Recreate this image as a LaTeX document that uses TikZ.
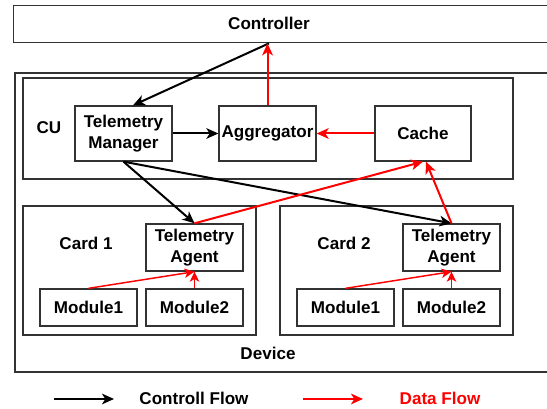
\documentclass[tikz,border=0pt]{standalone}
\usepackage{fontspec}
\setmainfont{Liberation Sans}
\usetikzlibrary{arrows.meta,calc}
\definecolor{boxline}{RGB}{51,51,51}
\definecolor{dred}{RGB}{255,0,0}
\begin{document}
\begin{tikzpicture}[x=0.75pt,y=-0.75pt,
  every node/.style={font=\fontsize{12.8}{15.5}\selectfont\bfseries},
  box/.style={draw=boxline,line width=1pt,inner sep=0pt,align=center},
  sz/.style 2 args={minimum width=#1*0.75pt,minimum height=#2*0.75pt},
  ctrl/.style={draw=black,line width=1.5pt,-{Stealth[length=9pt,width=8pt,inset=2.5pt]}},
  data/.style={draw=dred,line width=1.5pt,-{Stealth[length=9pt,width=8pt,inset=2.5pt]}},
  datathin/.style={draw=dred,line width=1.1pt,-{Stealth[length=7.5pt,width=7pt,inset=2pt]}},
  lbl/.style={inner sep=0pt}
]
\useasboundingbox (0,0) rectangle (547,409);

% Controller
\node[box,sz={560}{37},anchor=north west] (controller) at (13,5) {};
\node[lbl] (ctrltext) at (269,23) {Controller};

% Device
\node[box,line width=1.3pt,sz={560}{299},anchor=north west] (device) at (14,72) {};
\node[lbl] (devicetext) at (268,353) {Device};

% CU
\node[box,sz={490}{101}] (cu) at (268,128.5) {};
\node[lbl] (cutext) at (49,128) {CU};
\node[box,sz={97}{55}] (tm) at (123.5,133.5) {Telemetry\\Manager};
\node[box,sz={97}{55}] (agg) at (267.5,133.5) {Aggregator};
\node[box,sz={96}{55}] (cache) at (423,133.5) {Cache};

% Card 1
\node[box,sz={233}{129}] (card1) at (139.5,270.5) {};
\node[lbl] (card1text) at (86,243) {Card 1};
\node[box,sz={97}{47}] (agent1) at (194.5,247.5) {Telemetry\\Agent};
\node[box,sz={97}{37}] (m11) at (88.5,307.5) {Module1};
\node[box,sz={97}{37}] (m12) at (194.5,307.5) {Module2};

% Card 2
\node[box,sz={233}{129}] (card2) at (396.5,270.5) {};
\node[lbl] (card2text) at (344,243) {Card 2};
\node[box,sz={97}{47}] (agent2) at (451.5,247.5) {Telemetry\\Agent};
\node[box,sz={97}{37}] (m21) at (345.5,307.5) {Module1};
\node[box,sz={97}{37}] (m22) at (451.5,307.5) {Module2};

% Connectors
\draw[ctrl] (ctrltext |- controller.south) -- ($(tm.north)+(9.5,0)$);
\draw[data] (agg.north) -- (agg.north |- controller.south);
\draw[ctrl] (tm.east) -- (agg.west);
\draw[data] (cache.west) -- (agg.east);
\draw[ctrl] (tm.south) -- (agent1.north);
\draw[ctrl] (tm.south) -- (agent2.north);
\draw[data] (agent1.north) -- (cache.south);
\draw[data] (agent2.north) -- ($(cache.south)+(3,0)$);
\draw[datathin] (m11.north) -- (agent1.south);
\draw[datathin] (m12.north) -- (agent1.south);
\draw[datathin] (m21.north) -- (agent2.south);
\draw[datathin] (m22.north) -- (agent2.south);

% Legend
\coordinate (l1a) at (54,399);
\coordinate (l1b) at (114,399);
\draw[ctrl] (l1a) -- (l1b);
\node[lbl] (l1text) at (194,398) {Controll Flow};
\coordinate (l2a) at (303,399);
\coordinate (l2b) at (363,399);
\draw[data] (l2a) -- (l2b);
\node[lbl,text=dred] (l2text) at (440,398) {Data Flow};
\end{tikzpicture}
\end{document}
